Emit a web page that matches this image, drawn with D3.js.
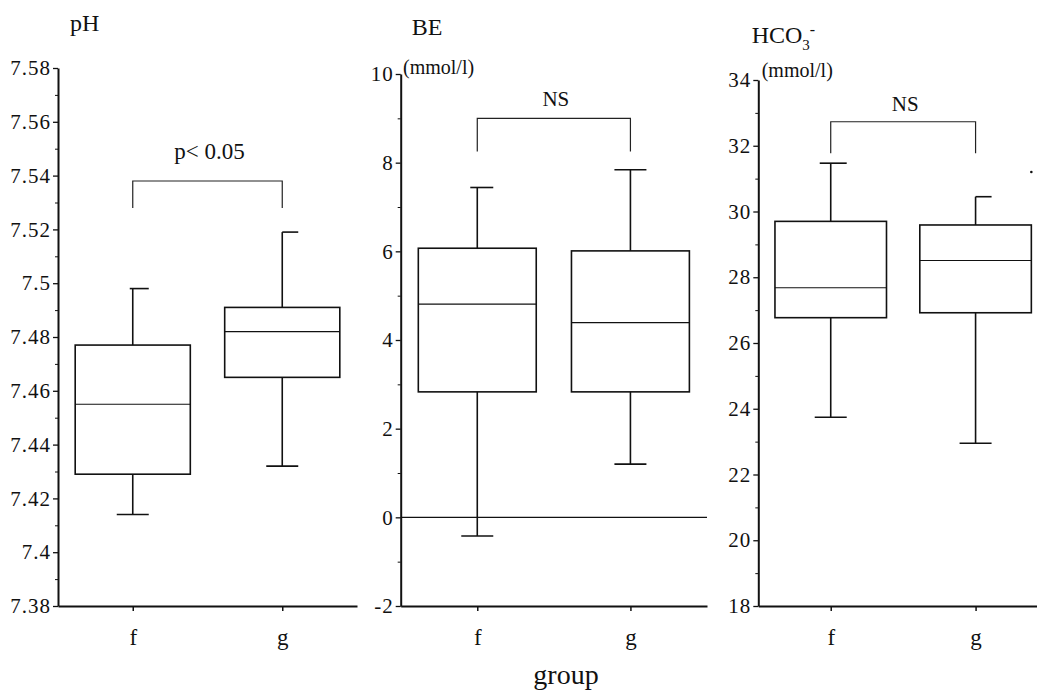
<!DOCTYPE html>
<html>
<head>
<meta charset="utf-8">
<script src="https://cdn.jsdelivr.net/npm/d3@7"></script>
<style>
body { margin: 0; background: #fff; }
svg text { font-family: "Liberation Serif", "Times New Roman", serif; fill: #111; }
.domain, .tick line { stroke: #111; }
</style>
</head>
<body>
<div id="chart-area"></div>
<script>
const groups = ["f", "g"];
// each box: low whisker, q1, median, q3, high whisker
const phBoxes = [[7.414, 7.429, 7.455, 7.477, 7.498], [7.432, 7.465, 7.482, 7.491, 7.519]];
const beBoxes = [[-0.42, 2.83, 4.81, 6.07, 7.44], [1.2, 2.83, 4.39, 6.01, 7.84]];
const hco3Boxes = [[23.74, 26.77, 27.68, 29.7, 31.47], [22.95, 26.92, 28.51, 29.59, 30.45]];
const hco3Outliers = [{ group: "g", value: 31.2 }];
const phTicks = [7.38, 7.4, 7.42, 7.44, 7.46, 7.48, 7.5, 7.52, 7.54, 7.56, 7.58];
const phTickLabels = ["7.38", "7.4", "7.42", "7.44", "7.46", "7.48", "7.5", "7.52", "7.54", "7.56", "7.58"];
const beTicks = [-2, 0, 2, 4, 6, 8, 10];
const hco3Ticks = [18, 20, 22, 24, 26, 28, 30, 32, 34];
// bracket: top line, leg end, label baseline
const phBracket = [7.538, 7.528, 7.546];
const beBracket = [9.0, 8.25, 9.28];
const hco3Bracket = [32.73, 31.77, 33.07];
const bracketLabels = ["p< 0.05", "NS", "NS"];

const chartSize = { width: 1037, height: 693 };
const serif = '"Liberation Serif", "Times New Roman", serif';

const panels = [
    { title: "pH", boxes: phBoxes, ticks: phTicks, tickLabels: phTickLabels, bracket: phBracket,
      label: bracketLabels[0], labelSize: 23, left: 58, right: 357, top: 68, bottom: 606,
      titleX: 70, titleY: 31, capLeft: [3, 0] },
    { title: "BE", boxes: beBoxes, ticks: beTicks, tickLabels: beTicks.map(String), bracket: beBracket,
      label: bracketLabels[1], labelSize: 21, left: 400.7, right: 707, top: 74, bottom: 606,
      titleX: 411.7, titleY: 35, unitX: 403, unitY: 74, capLeft: [7, 16], refLine: 0 },
    { title: "HCO", boxes: hco3Boxes, ticks: hco3Ticks, tickLabels: hco3Ticks.map(String), bracket: hco3Bracket,
      label: bracketLabels[2], labelSize: 21, left: 758.3, right: 1048, top: 80, bottom: 606,
      titleX: 751.7, titleY: 43.3, unitX: 761.7, unitY: 77, capLeft: [11, 0], outliers: hco3Outliers }
];

const svg = d3.select("#chart-area")
    .append("svg")
    .attr("width", chartSize.width)
    .attr("height", chartSize.height);

const drawPanel = function(p) {
    const ticks = p.ticks;
    const y = d3.scaleLinear()
        .domain([ticks[0], ticks[ticks.length - 1]])
        .range([p.bottom, p.top]);
    const x = d3.scalePoint()
        .domain(groups)
        .range([p.left, p.right])
        .padding(0.5);
    const boxW = x.step() * 0.77;
    const g = svg.append("g");

    // minor ticks
    const minor = d3.pairs(ticks).map(([a, b]) => (a + b) / 2);
    g.append("g")
        .attr("transform", `translate(${p.left},0)`)
        .call(d3.axisLeft(y).tickValues(minor).tickSize(3).tickFormat(""))
        .call(s => s.select(".domain").remove())
        .selectAll("line").attr("stroke-width", 1);

    const yAxis = g.append("g")
        .attr("transform", `translate(${p.left},0)`)
        .call(d3.axisLeft(y)
            .tickValues(ticks)
            .tickFormat((d, i) => p.tickLabels[i])
            .tickSize(5)
            .tickSizeOuter(0)
            .tickPadding(2))
        .attr("font-family", serif)
        .attr("font-size", 21);
    yAxis.select(".domain").attr("stroke-width", 2);
    yAxis.selectAll(".tick line").attr("stroke-width", 1.3);
    yAxis.selectAll("text")
        .attr("letter-spacing", "1px")
        .attr("fill", "#111");

    const xAxis = g.append("g")
        .attr("transform", `translate(0,${p.bottom})`)
        .call(d3.axisBottom(x).tickSize(5).tickSizeOuter(0).tickPadding(18))
        .attr("font-family", serif)
        .attr("font-size", 23);
    xAxis.select(".domain").attr("stroke-width", 2);
    xAxis.selectAll(".tick line").attr("stroke-width", 1.5);
    xAxis.selectAll("text").attr("fill", "#111");

    if (p.refLine !== undefined) {
        g.append("line")
            .attr("x1", p.left).attr("x2", p.right)
            .attr("y1", y(p.refLine)).attr("y2", y(p.refLine))
            .attr("stroke", "#111").attr("stroke-width", 1.3);
    }

    const box = g.selectAll(".box")
        .data(p.boxes)
        .enter()
        .append("g")
        .attr("class", "box");
    const cx = (d, i) => x(groups[i]);
    box.append("line")
        .attr("x1", cx).attr("x2", cx)
        .attr("y1", d => y(d[0])).attr("y2", d => y(d[1]))
        .attr("stroke", "#111").attr("stroke-width", 1.6);
    box.append("line")
        .attr("x1", cx).attr("x2", cx)
        .attr("y1", d => y(d[3])).attr("y2", d => y(d[4]))
        .attr("stroke", "#111").attr("stroke-width", 1.6);
    box.append("line")
        .attr("x1", (d, i) => cx(d, i) - 16).attr("x2", (d, i) => cx(d, i) + 16)
        .attr("y1", d => y(d[0])).attr("y2", d => y(d[0]))
        .attr("stroke", "#111").attr("stroke-width", 1.6);
    box.append("line")
        .attr("x1", (d, i) => cx(d, i) - p.capLeft[i]).attr("x2", (d, i) => cx(d, i) + 16)
        .attr("y1", d => y(d[4])).attr("y2", d => y(d[4]))
        .attr("stroke", "#111").attr("stroke-width", 1.6);
    box.append("rect")
        .attr("x", (d, i) => cx(d, i) - boxW / 2)
        .attr("width", boxW)
        .attr("y", d => y(d[3]))
        .attr("height", d => y(d[1]) - y(d[3]))
        .attr("fill", "none").attr("stroke", "#111").attr("stroke-width", 1.6);
    box.append("line")
        .attr("x1", (d, i) => cx(d, i) - boxW / 2).attr("x2", (d, i) => cx(d, i) + boxW / 2)
        .attr("y1", d => y(d[2])).attr("y2", d => y(d[2]))
        .attr("stroke", "#111").attr("stroke-width", 1.2);

    if (p.outliers) {
        g.selectAll(".outlier")
            .data(p.outliers)
            .enter()
            .append("circle")
            .attr("cx", d => x(d.group) + boxW / 2)
            .attr("cy", d => y(d.value))
            .attr("r", 1.3)
            .attr("fill", "#111");
    }

    // significance bracket
    const [b0, b1, bl] = p.bracket;
    const bx0 = x(groups[0]), bx1 = x(groups[1]);
    g.append("path")
        .attr("d", `M${bx0},${y(b1)}V${y(b0)}H${bx1}V${y(b1)}`)
        .attr("fill", "none").attr("stroke", "#222").attr("stroke-width", 1.2);
    g.append("text")
        .attr("x", (bx0 + bx1) / 2 + 2)
        .attr("y", y(bl))
        .attr("text-anchor", "middle")
        .attr("font-size", p.labelSize)
        .text(p.label);

    const title = g.append("text")
        .attr("x", p.titleX)
        .attr("y", p.titleY)
        .attr("font-size", 24)
        .text(p.title);
    if (p.title === "HCO") {
        title.append("tspan").attr("dy", 7).attr("font-size", 15).text("3");
        title.append("tspan").attr("dy", -15).attr("font-size", 16).text("-");
    }
    if (p.unitX !== undefined) {
        g.append("text")
            .attr("x", p.unitX)
            .attr("y", p.unitY)
            .attr("font-size", 20)
            .text("(mmol/l)");
    }
};

panels.forEach(drawPanel);

svg.append("text")
    .attr("x", 566)
    .attr("y", 684)
    .attr("text-anchor", "middle")
    .attr("font-size", 28)
    .text("group");
</script>
</body>
</html>
